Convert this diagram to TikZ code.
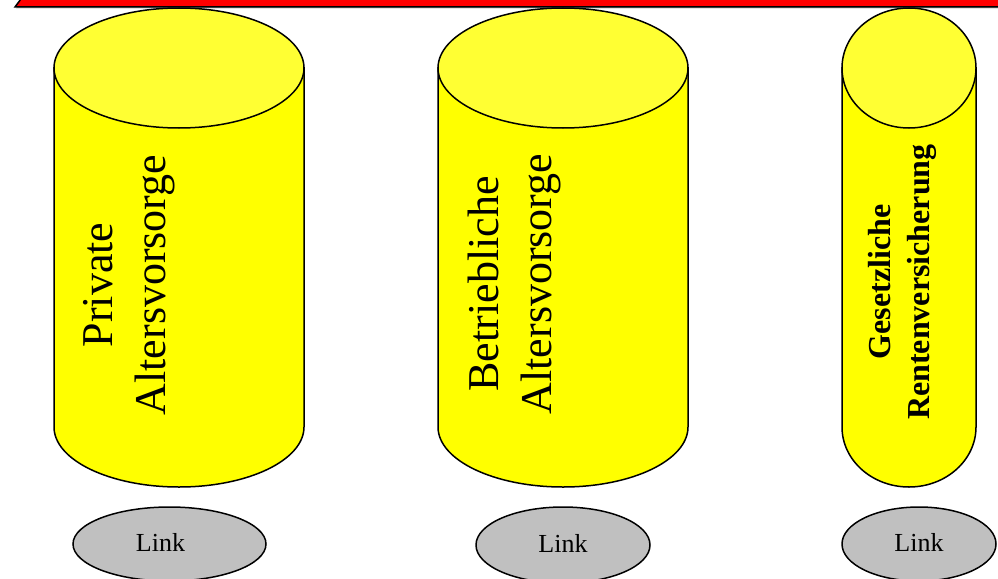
\documentclass[tikz,border=0pt]{standalone}
\usepackage{fontspec}
\setmainfont{Liberation Serif}
\usetikzlibrary{shapes.geometric}
\definecolor{mybar}{HTML}{FF0000}
\definecolor{mybody}{HTML}{FFFF00}
\definecolor{mytop}{HTML}{FFFF33}
\definecolor{mylink}{HTML}{C0C0C0}

\tikzset{
  pillar/.style={draw=black, line width=1.5pt, fill=mybody},
  pillartop/.style={draw=black, line width=1.5pt, fill=mytop},
  pillartext/.style={rotate=90, align=center, inner sep=0pt,
    font=\fontsize{44}{53}\selectfont},
  linkoval/.style={ellipse, draw=black, line width=1.5pt, fill=mylink,
    inner sep=0pt, font=\fontsize{26}{30}\selectfont},
}

% #1 = centre x, #2 = half width
\newcommand{\drawpillar}[2]{%
  \draw [pillar] (#1-#2,\topY) -- (#1-#2,\bottomY)
    arc [start angle=180, end angle=0, x radius=#2, y radius=\capR]
    -- (#1+#2,\topY) -- cycle;
  \draw [pillartop] (#1,\topY) ellipse [x radius=#2, y radius=\capR];
}

\begin{document}
\begin{tikzpicture}[x=1pt,y=-1pt,thick]

      \useasboundingbox (0,0) rectangle (998,578);
      \clip (0,0) rectangle (998,578);

      \pgfmathsetmacro{\topY}{68}
      \pgfmathsetmacro{\bottomY}{427}
      \pgfmathsetmacro{\capR}{60}
      \pgfmathsetmacro{\linkY}{544}

      % red bar
      \fill [gray!60] (16,8.5) -- (1010,8.5) -- (1010,-20) -- (37,-20) -- cycle;
      \draw [fill=mybar, line width=1.5pt] (15,7) -- (1010,7) -- (1010,-20) -- (35,-20) -- cycle;

      % pillars
      \drawpillar{179}{125}
      \drawpillar{563}{125}
      \drawpillar{909}{67}

      % pillar labels
      \node [name=p1, pillartext] at (129,285) {Private\\Altersvorsorge};
      \node [name=p2, pillartext] at (514,284) {Betriebliche\\Altersvorsorge};
      \node [name=p3, pillartext, font=\fontsize{32}{39}\selectfont\bfseries]
        at (902,282) {Gesetzliche\\Rentenversicherung};

      % links
      \node [name=link1, linkoval, minimum width=193pt, minimum height=74pt]
        at (169.5,\linkY) {\hspace*{-18pt}\raisebox{3pt}{Link}};
      \node [name=link2, linkoval, minimum width=174pt, minimum height=76pt]
        at (563,545) {\raisebox{3pt}{Link}};
      \node [name=link3, linkoval, minimum width=154pt, minimum height=74pt]
        at (919,\linkY) {\raisebox{3pt}{Link}};

\end{tikzpicture}
\end{document}
